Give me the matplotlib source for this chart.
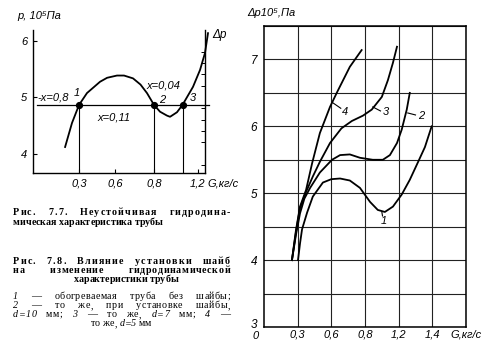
import matplotlib
matplotlib.use("Agg")
import matplotlib.pyplot as plt
from matplotlib.ticker import MultipleLocator, NullLocator
from matplotlib.transforms import offset_copy

plt.rcParams['font.family'] = ['Liberation Sans', 'DejaVu Sans']

# ---------------- data: Fig. 7.7 (left) ----------------
left_G = [0.207, 0.253, 0.30, 0.353, 0.44, 0.487, 0.553, 0.60, 0.66, 0.71, 0.753,
          0.80, 0.84, 0.887, 0.907, 0.953, 0.99, 1.06, 1.107, 1.14, 1.16]
left_p = [4.115, 4.54, 4.86, 5.07, 5.27, 5.34, 5.38, 5.38, 5.33, 5.22, 5.07,
          4.86, 4.74, 4.67, 4.65, 4.73, 4.86, 5.18, 5.48, 5.78, 6.13]
left_level = 4.86
left_level_span = [0.02, 1.167]
left_points_G = [0.30, 0.80, 0.99]
left_xticks = [0.30, 0.54, 0.80, 1.09]
left_xticklabels = ['0,3', '0,6', '0,8', '1,2']
left_yticks = [4, 5, 6]

# ---------------- data: Fig. 7.8 (right) ----------------
# x in grid units, labelled by the tick labels below
right_xticks = [1, 2, 3, 4, 5, 6]
right_xticklabels = ['0,3', '0,6', '0,8', '1,2', '1,4', 'G,кг/с']
right_yticks = [3, 4, 5, 6, 7]

c1_x = [1.01, 1.07, 1.13, 1.28, 1.45, 1.75, 2.0, 2.26, 2.55, 2.85, 3.15, 3.38, 3.59,
        3.83, 4.09, 4.33, 4.57, 4.78, 4.98]
c1_y = [4.0, 4.25, 4.46, 4.71, 4.95, 5.16, 5.21, 5.22, 5.19, 5.08, 4.87, 4.75, 4.72,
        4.80, 4.98, 5.20, 5.46, 5.69, 6.0]
c2_x = [0.83, 0.95, 1.07, 1.2, 1.37, 1.66, 2.02, 2.26, 2.55, 2.85, 3.23, 3.53, 3.74,
        3.95, 4.09, 4.24, 4.33]
c2_y = [4.0, 4.38, 4.7, 4.92, 5.08, 5.31, 5.5, 5.57, 5.58, 5.53, 5.5, 5.5, 5.57,
        5.75, 5.95, 6.25, 6.5]
c3_x = [0.83, 0.95, 1.07, 1.25, 1.45, 1.66, 1.96, 2.3, 2.61, 2.94, 3.2, 3.5, 3.68,
        3.83, 3.95]
c3_y = [4.0, 4.42, 4.78, 5.02, 5.25, 5.47, 5.75, 5.97, 6.08, 6.16, 6.25, 6.44, 6.69,
        6.95, 7.19]
c4_x = [0.83, 0.95, 1.07, 1.25, 1.43, 1.66, 1.96, 2.17, 2.55, 2.9]
c4_y = [4.0, 4.45, 4.8, 5.05, 5.45, 5.9, 6.29, 6.51, 6.89, 7.14]

W, H = 495, 360
fig = plt.figure(figsize=(W / 100, H / 100), dpi=100)


def px_axes(l, t, r, b):
    return fig.add_axes([l / W, 1 - b / H, (r - l) / W, (b - t) / H])


ital = dict(style='italic', fontsize=8, color='black')

# ================= left chart =================
axL = px_axes(33, 30, 205, 173)
axL.set_xlim(-0.007, 1.14)
axL.set_ylim(3.655, 6.186)
axL.spines['top'].set_visible(False)
for s in ['left', 'bottom', 'right']:
    axL.spines[s].set_linewidth(1.0)
axL.set_xticks(left_xticks)
axL.set_xticklabels(left_xticklabels, **ital)
axL.set_yticks(left_yticks)
axL.set_yticklabels([str(v) for v in left_yticks], **ital)
axL.tick_params(which='major', direction='in', length=3, width=0.8, pad=4,
                right=False, top=False)
axL.yaxis.set_minor_locator(MultipleLocator(0.2))
axL.xaxis.set_minor_locator(NullLocator())
axL.tick_params(which='minor', direction='in', length=3, width=0.7,
                left=False, right=True)
axL.patch.set_alpha(0)

axL.plot(left_G, left_p, color='black', lw=1.3, clip_on=False, zorder=3)
axL.plot(left_level_span, [left_level, left_level], color='black', lw=0.9,
         clip_on=False)
for g in left_points_G:
    axL.plot([g, g], [axL.get_ylim()[0], left_level], color='black', lw=0.8)
axL.plot(left_points_G, [left_level] * len(left_points_G), 'o', color='black',
         ms=4.2, zorder=4, clip_on=False)

axL.text(0.02, 5.0, '-x=0,8', ha='left', va='center', **ital)
axL.text(0.287, 5.07, '1', ha='center', va='center', **ital)
axL.text(0.86, 5.21, 'x=0,04', ha='center', va='center', **ital)
axL.text(0.853, 4.95, '2', ha='center', va='center', **ital)
axL.text(1.06, 4.98, '3', ha='center', va='center', **ital)
axL.text(0.533, 4.63, 'x=0,11', ha='center', va='center', **ital)
axL.text(1.185, 6.1, 'Δp', ha='left', va='center', clip_on=False,
         **{**ital, 'fontsize': 8.5})
fig.text(17 / W, 1 - 16 / H, 'p, 10⁵Па', ha='left', va='center', **ital)
fig.text(207 / W, 1 - 183 / H, 'G,кг/с', ha='left', va='center', **ital)

# ================= right chart =================
axR = px_axes(264, 26, 466, 327)
axR.set_xlim(0, 6)
axR.set_ylim(3, 7.5)
for s in axR.spines.values():
    s.set_linewidth(1.1)
axR.set_xticks(right_xticks)
axR.set_xticklabels(right_xticklabels, **ital)
axR.set_yticks(right_yticks)
axR.set_yticklabels([str(v) for v in right_yticks], **{**ital, 'fontsize': 8.5})
axR.yaxis.set_minor_locator(MultipleLocator(0.5))
axR.tick_params(which='both', length=0)
axR.tick_params(axis='x', pad=2)
axR.tick_params(axis='y', pad=5)
axR.grid(True, which='both', color='#222222', lw=0.8)
# lift the bottom "3" label slightly so that it clears the origin "0"
lab3 = axR.get_yticklabels()[0]
lab3.set_transform(offset_copy(lab3.get_transform(), fig=fig, x=0, y=3,
                               units='dots'))
axR.text(-0.25, 2.86, '0', ha='center', va='center', clip_on=False,
         **{**ital, 'fontsize': 8})
fig.text(247 / W, 1 - 13 / H, 'Δp10⁵,Па', ha='left', va='center', **ital)

for xs, ys in [(c1_x, c1_y), (c2_x, c2_y), (c3_x, c3_y), (c4_x, c4_y)]:
    axR.plot(xs, ys, color='black', lw=1.3, zorder=3)

# curve labels with leader ticks
labels_r = [('4', 2.42, 6.22, [2.05, 2.28], [6.35, 6.27]),
            ('3', 3.62, 6.22, [3.23, 3.46], [6.29, 6.23]),
            ('2', 4.66, 6.16, [4.27, 4.5], [6.2, 6.17]),
            ('1', 3.55, 4.58, [3.5, 3.52], [4.72, 4.66])]
for t, lx, ly, tx, ty in labels_r:
    axR.text(lx, ly, t, ha='center', va='center', **ital)
    axR.plot(tx, ty, color='black', lw=0.8, zorder=3)

# ================= captions =================
serif = ['Liberation Serif', 'DejaVu Serif']
renderer = fig.canvas.get_renderer()


def place_line(words, y, weight, size, x0=None, x1=None, center=None,
               left=None, letter_share=0.0, italic=()):
    """Lay out a caption line character by character (to imitate the
    letter-spaced, justified typesetting of the book)."""
    em = size * 100 / 72
    space_w = 0.27 * em
    units = []
    for i, w in enumerate(words):
        st = 'italic' if w in italic else 'normal'
        for ch in w:
            t = fig.text(0, 1 - y / H, ch, fontsize=size, family=serif,
                         weight=weight, style=st, ha='left', va='center')
            units.append([t, t.get_window_extent(renderer).width, False])
        if i < len(words) - 1:
            units.append([None, space_w, True])
    natural = sum(u[1] for u in units)
    n_spaces = sum(1 for u in units if u[2])
    n_gaps = len(units) - 1
    if x0 is not None and x1 is not None:
        extra = x1 - x0 - natural
        per_gap = extra * letter_share / n_gaps
        per_space = extra * (1 - letter_share) / max(n_spaces, 1)
        x = x0
    else:
        per_gap = per_space = 0
        x = left if left is not None else center - natural / 2
    for t, w, is_space in units:
        if t is not None:
            t.set_x(x / W)
        x += w + per_gap + (per_space if is_space else 0)


B, N = 'bold', 'normal'
FS = 7.2
place_line('Рис. 7.7. Неустойчивая гидродина-'.split(), 212.5, B, FS, 13, 230,
           letter_share=0.6)
place_line('мическая характеристика трубы'.split(), 222.3, B, FS, left=13)
place_line('Рис. 7.8. Влияние установки шайб'.split(), 261.5, B, FS, 13, 230,
           letter_share=0.6)
place_line('на изменение гидродинамической'.split(), 270.5, B, FS, 13, 230,
           letter_share=0.3)
place_line('характеристики трубы'.split(), 279.5, B, FS, center=126)
it = ('1', '2', '3', '4', 'd=10', 'd=7', 'd=5')
place_line('1 — обогреваемая труба без шайбы;'.split(), 296.5, N, FS, 13, 230,
           letter_share=0.2, italic=it)
place_line('2 — то же, при установке шайбы,'.split(), 305.5, N, FS, 13, 230,
           letter_share=0.2, italic=it)
place_line('d=10 мм; 3 — то же, d=7 мм; 4 —'.split(), 314.5, N, FS, 13, 230,
           letter_share=0.2, italic=it)
place_line('то же, d=5 мм'.split(), 323.5, N, FS, center=121, italic=it)

fig.savefig('out.png', dpi=100)
